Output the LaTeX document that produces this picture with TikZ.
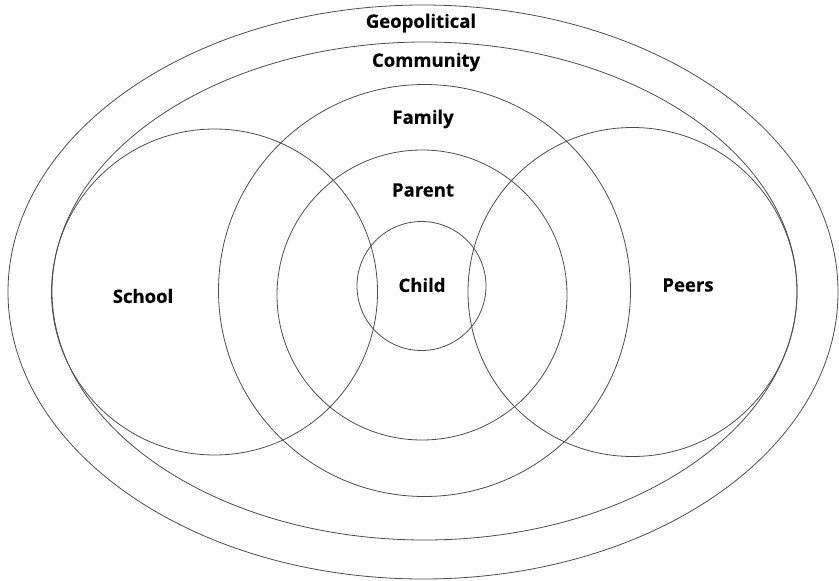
\documentclass[tikz,border=0pt]{standalone}
\usepackage{fontspec}
\setmainfont{Open Sans}
\newfontfamily\lblfont[FakeBold=0.4]{Open Sans Bold}
\begin{document}
\begin{tikzpicture}[x=1pt,y=-1pt,
  ring/.style={draw=black!70,line width=0.8pt},
  lbl/.style={font=\lblfont\fontsize{18.5}{22}\selectfont,text=black,inner sep=0pt}]
\useasboundingbox (0,0) rectangle (839,581);
% nested spheres of influence
\draw[ring] (423,292) ellipse [x radius=415,y radius=287];
\draw[ring] (424.5,291) ellipse [x radius=372.5,y radius=249];
\draw[ring] (424.5,290.5) circle [radius=206];
\draw[ring] (422,295) circle [radius=145];
\draw[ring] (421.5,286) circle [radius=64.5];
% overlapping side circles
\draw[ring] (214.5,292) circle [radius=163];
\draw[ring] (632.5,292) circle [radius=164.5];
% labels
\node[lbl] (geo) at (421,23) {Geopolitical};
\node[lbl] (com) at (426,62) {Community};
\node[lbl] (fam) at (423,119) {Family};
\node[lbl] (par) at (423,190) {Parent};
\node[lbl] (chi) at (422,285) {Child};
\node[lbl] (sch) at (143,296) {School};
\node[lbl] (pee) at (688,285) {Peers};
\end{tikzpicture}
\end{document}
